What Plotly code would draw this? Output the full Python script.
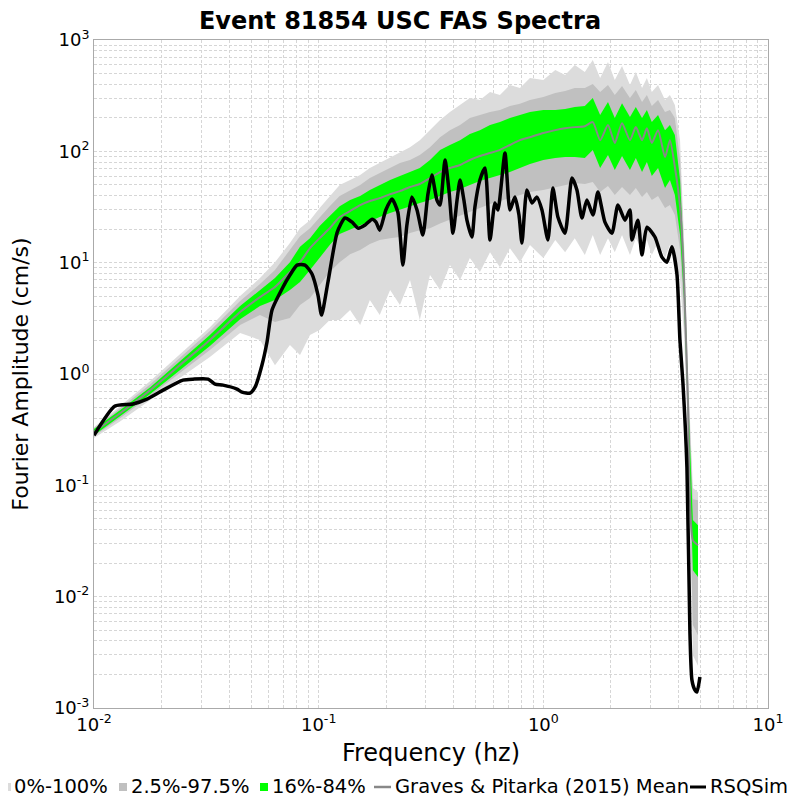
import plotly.graph_objects as go

# Graves & Pitarka (2015) ensemble
freq = [0.0100, 0.0131, 0.0178, 0.0241, 0.0328, 0.0447, 0.0548, 0.0639, 0.0745, 0.0826,
        0.0915, 0.101, 0.112, 0.124, 0.138, 0.153, 0.169, 0.187, 0.208, 0.230,
        0.255, 0.282, 0.313, 0.347, 0.384, 0.426, 0.471, 0.522, 0.579, 0.641,
        0.710, 0.787, 0.872, 1.00, 1.13, 1.25, 1.38, 1.53, 1.66, 1.79,
        1.94, 2.08, 2.24, 2.43, 2.58, 2.75, 2.89, 3.04, 3.24, 3.48,
        3.66, 3.85, 4.06, 4.23, 4.40, 4.63, 4.88]

p100 = [0.333, 0.515, 0.863, 1.51, 2.63, 5.02, 7.27, 10.1, 15.0, 20.4,
        24.1, 30.9, 39.7, 49.8, 55.2, 61.2, 70.8, 78.5, 87.1, 96.6,
        109, 126, 155, 191, 226, 261, 302, 289, 342, 321,
        394, 371, 456, 437, 537, 485, 596, 515, 661, 456,
        635, 437, 584, 394, 515, 371, 456, 342, 394, 289,
        321, 261, 126, 16.0, 1.08, 0.0947, 0.0866]
p975 = [0.326, 0.494, 0.810, 1.39, 2.43, 4.52, 6.42, 8.58, 13.0, 17.3,
        20.4, 25.7, 32.2, 39.7, 44.9, 49.8, 57.5, 63.8, 70.8, 78.5,
        83.6, 92.7, 109, 134, 155, 172, 199, 212, 226, 235,
        256, 267, 289, 307, 334, 348, 371, 371, 402, 342,
        394, 321, 386, 302, 356, 277, 321, 256, 289, 226,
        235, 199, 83.6, 13.0, 0.92, 0.0750, 0.0736]
p84 = [0.320, 0.474, 0.762, 1.30, 2.24, 4.08, 5.67, 7.27, 10.1, 13.9,
       16.6, 21.4, 26.2, 32.2, 36.5, 39.7, 44.9, 49.8, 55.2, 59.9,
       65.1, 70.8, 83.6, 103, 114, 126, 143, 155, 172, 183,
       199, 212, 226, 235, 235, 240, 250, 256, 302, 212,
       277, 199, 271, 203, 250, 199, 235, 183, 212, 155,
       172, 140, 55.2, 10.1, 0.745, 0.0487, 0.0439]
gp_mean = [0.301, 0.446, 0.716, 1.20, 2.02, 3.60, 4.91, 6.04, 8.24, 10.1,
           13.5, 16.6, 20.4, 25.7, 29.1, 32.9, 35.8, 38.0, 41.3, 43.9,
           47.8, 50.9, 57.5, 65.1, 70.8, 75.4, 83.6, 90.8, 96.6, 103,
           114, 126, 134, 146, 155, 161, 165, 168, 183, 126,
           172, 119, 179, 126, 165, 126, 161, 119, 155, 88.9,
           126, 72.3, 31.6, 6.98, 0.583, 0.0322, 0.0290]
p16 = [0.282, 0.419, 0.660, 1.08, 1.78, 3.11, 4.08, 4.61, 5.67, 6.71,
       8.58, 11.0, 14.4, 18.1, 20.0, 21.8, 23.6, 25.7, 27.9, 29.7,
       32.2, 34.4, 36.5, 39.7, 43.1, 45.8, 49.8, 54.1, 57.5, 61.2,
       65.1, 70.8, 76.9, 83.6, 87.1, 88.9, 88.9, 87.1, 103, 70.8,
       92.7, 67.9, 90.8, 67.9, 87.1, 65.1, 80.1, 60.0, 70.8, 46.8,
       55.2, 40.5, 17.7, 4.61, 0.455, 0.0173, 0.0150]
p025 = [0.276, 0.402, 0.634, 1.02, 1.64, 2.75, 3.38, 2.93, 3.18, 4.16,
        4.82, 6.29, 8.24, 10.1, 11.9, 13.0, 14.7, 16.0, 16.6, 17.0,
        18.5, 19.6, 20.4, 22.5, 24.1, 26.2, 28.5, 30.9, 33.6, 35.8,
        38.0, 40.5, 43.1, 44.9, 47.8, 49.8, 51.9, 50.9, 53.0, 43.1,
        48.8, 40.5, 47.8, 40.5, 46.8, 38.8, 43.1, 36.5, 39.7, 30.9,
        32.9, 26.8, 13.0, 3.38, 0.370, 0.00557, 0.00450]
p0 = [0.266, 0.377, 0.583, 0.92, 1.42, 2.33, 2.02, 1.20, 1.82, 1.48,
      2.24, 2.48, 3.05, 3.05, 3.75, 2.75, 4.61, 3.38, 5.67, 4.16,
      6.98, 3.05, 7.74, 5.67, 9.51, 6.98, 11.0, 8.24, 12.4, 9.09,
      13.5, 10.1, 14.4, 11.0, 16.0, 12.4, 16.6, 11.7, 17.7, 11.7,
      16.6, 12.4, 17.7, 11.7, 16.6, 13.0, 16.0, 11.7, 15.3, 11.0,
      14.4, 11.0, 6.98, 2.24, 0.282, 0.00298, 0.00240]

# RSQSim synthetic
rsq_freq = [0.0100, 0.0124, 0.0149, 0.0172, 0.0203, 0.0249, 0.0276, 0.0322, 0.0346, 0.0375,
            0.0433, 0.0456, 0.0495, 0.0521, 0.0559, 0.0589, 0.0620, 0.0694, 0.0745, 0.0801,
            0.0869, 0.0934, 0.0993, 0.103, 0.110, 0.121, 0.131, 0.141, 0.150, 0.161,
            0.173, 0.180, 0.187, 0.199, 0.212, 0.225, 0.237, 0.247, 0.260, 0.274,
            0.291, 0.306, 0.319, 0.336, 0.347, 0.365, 0.380, 0.396, 0.413, 0.426,
            0.443, 0.457, 0.481, 0.496, 0.522, 0.550, 0.579, 0.609, 0.628, 0.675,
            0.710, 0.747, 0.779, 0.803, 0.845, 0.890, 0.937, 0.986, 1.048, 1.103,
            1.161, 1.248, 1.341, 1.411, 1.485, 1.563, 1.663, 1.750, 1.880, 2.020,
            2.148, 2.308, 2.429, 2.480, 2.636, 2.747, 2.891, 3.139, 3.372, 3.549,
            3.735, 3.932, 4.055, 4.182, 4.357, 4.493, 4.586, 4.729, 4.827, 4.977]
rsq_amp = [0.282, 0.515, 0.537, 0.595, 0.716, 0.881, 0.899, 0.899, 0.810, 0.794,
           0.731, 0.687, 0.673, 0.762, 1.20, 1.94, 3.75, 6.04, 7.74, 9.51,
           9.51, 7.91, 5.12, 3.38, 6.71, 18.8, 25.2, 23.1, 20.4, 21.8,
           24.6, 23.1, 19.6, 29.7, 37.3, 28.5, 9.51, 21.8, 38.8, 29.7,
           17.7, 40.5, 61.2, 36.5, 32.9, 83.6, 44.9, 18.4, 36.5, 55.2,
           36.5, 24.1, 17.0, 31.6, 55.2, 70.8, 16.0, 34.4, 29.7, 96.6,
           29.7, 38.8, 26.8, 15.0, 44.9, 34.4, 38.8, 29.7, 16.0, 46.8,
           25.7, 18.4, 57.5, 44.9, 25.2, 36.5, 26.8, 43.1, 23.1, 18.4,
           32.9, 24.1, 29.7, 16.0, 24.1, 11.7, 20.8, 17.0, 11.2, 10.1,
           13.9, 7.91, 2.02, 0.826, 0.145, 0.0047, 0.00178, 0.00145, 0.00139, 0.00190]

FONT = "DejaVu Sans"
LIGHT, MEDIUM, GREEN, MEAN_GRAY = "#dcdcdc", "#c0c0c0", "#00ff00", "#888888"

# the page puts the figure 8px in from the window corner, so lay out in page pixels
# and shift back by that offset
PAGE_OFF = 8
L, R, T, B = 94 - PAGE_OFF, 768 - PAGE_OFF, 40 - PAGE_OFF, 708 - PAGE_OFF


def px_x(x):
    return (x - PAGE_OFF - L) / (R - L)


def px_y(y):
    return (B - (y - PAGE_OFF)) / (B - T)


def band(name, upper, lower, color):
    return go.Scatter(
        x=freq + freq[::-1],
        y=upper + lower[::-1],
        fill="toself",
        fillcolor=color,
        line=dict(width=0),
        mode="lines",
        name=name,
        hoverinfo="skip",
        showlegend=False,
    )


fig = go.Figure()
fig.add_trace(band("0%-100%", p100, p0, LIGHT))
fig.add_trace(band("2.5%-97.5%", p975, p025, MEDIUM))
fig.add_trace(band("16%-84%", p84, p16, GREEN))
fig.add_trace(go.Scatter(x=freq, y=gp_mean, mode="lines", name="Graves & Pitarka (2015) Mean",
                         line=dict(color=MEAN_GRAY, width=2, shape="spline", smoothing=0.6),
                         showlegend=False))
fig.add_trace(go.Scatter(x=rsq_freq, y=rsq_amp, mode="lines", name="RSQSim",
                         line=dict(color="black", width=3.5, shape="spline", smoothing=0.6),
                         showlegend=False))

grid = dict(showgrid=True, gridcolor="#d6d6d6", griddash="3px,2px", gridwidth=1)

fig.update_xaxes(
    type="log", range=[-2, 1], automargin=False,
    tickvals=[0.01, 0.1, 1, 10],
    ticktext=["10<sup>-2</sup>", "10<sup>-1</sup>", "10<sup>0</sup>", "10<sup>1</sup>"],
    ticks="", showline=True, linecolor="#aaaaaa", mirror=True, zeroline=False,
    tickfont=dict(size=18, color="black"),
    title=dict(text="Frequency (hz)", font=dict(size=24, color="black"), standoff=10),
    minor=dict(dtick="D1", **grid),
    **grid,
)
fig.update_yaxes(
    type="log", range=[-3, 3], automargin=False,
    tickvals=[0.001, 0.01, 0.1, 1, 10, 100, 1000],
    ticktext=["10<sup>-3</sup>", "10<sup>-2</sup>", "10<sup>-1</sup>", "10<sup>0</sup>",
              "10<sup>1</sup>", "10<sup>2</sup>", "10<sup>3</sup>"],
    ticks="", showline=True, linecolor="#aaaaaa", mirror=True, zeroline=False,
    tickfont=dict(size=18, color="black"),
    title=dict(text="Fourier Amplitude (cm/s)", font=dict(size=22, color="black"), standoff=20),
    minor=dict(dtick="D1", **grid),
    **grid,
)

# legend row along the bottom, drawn like the original (small swatches)
legend_items = [
    ("box", LIGHT, 3, 12, "0%-100%"),
    ("box", MEDIUM, 119, 129, "2.5%-97.5%"),
    ("box", GREEN, 260, 270, "16%-84%"),
    ("line", MEAN_GRAY, 374, 393, "Graves & Pitarka (2015) Mean"),
    ("line", "black", 690, 708, "RSQSim"),
]
shapes, annotations = [], []
for kind, color, sx, tx, label in legend_items:
    if kind == "box":
        shapes.append(dict(type="rect", xref="paper", yref="paper",
                           x0=px_x(sx), x1=px_x(sx + 8), y0=px_y(791), y1=px_y(783),
                           fillcolor=color, line=dict(width=0)))
    else:
        shapes.append(dict(type="line", xref="paper", yref="paper",
                           x0=px_x(sx), x1=px_x(tx - 2), y0=px_y(787), y1=px_y(787),
                           line=dict(color=color, width=3 if color == "black" else 2.5)))
    annotations.append(dict(text=label, xref="paper", yref="paper", x=px_x(tx), y=px_y(786),
                            xanchor="left", yanchor="middle", showarrow=False,
                            font=dict(size=19.5, color="black", family=FONT)))

fig.update_layout(
    width=800, height=800,
    font=dict(family=FONT, color="black"),
    title=dict(text="<b>Event 81854 USC FAS Spectra</b>", x=(400 - PAGE_OFF) / 800, xref="container",
               y=1 - 13 / 800, yref="container", yanchor="middle",
               font=dict(size=24, color="black")),
    plot_bgcolor="white", paper_bgcolor="white",
    margin=dict(l=L, r=800 - R, t=T, b=800 - B),
    showlegend=False,
    shapes=shapes,
    annotations=annotations,
)

fig.write_html("out.html")
